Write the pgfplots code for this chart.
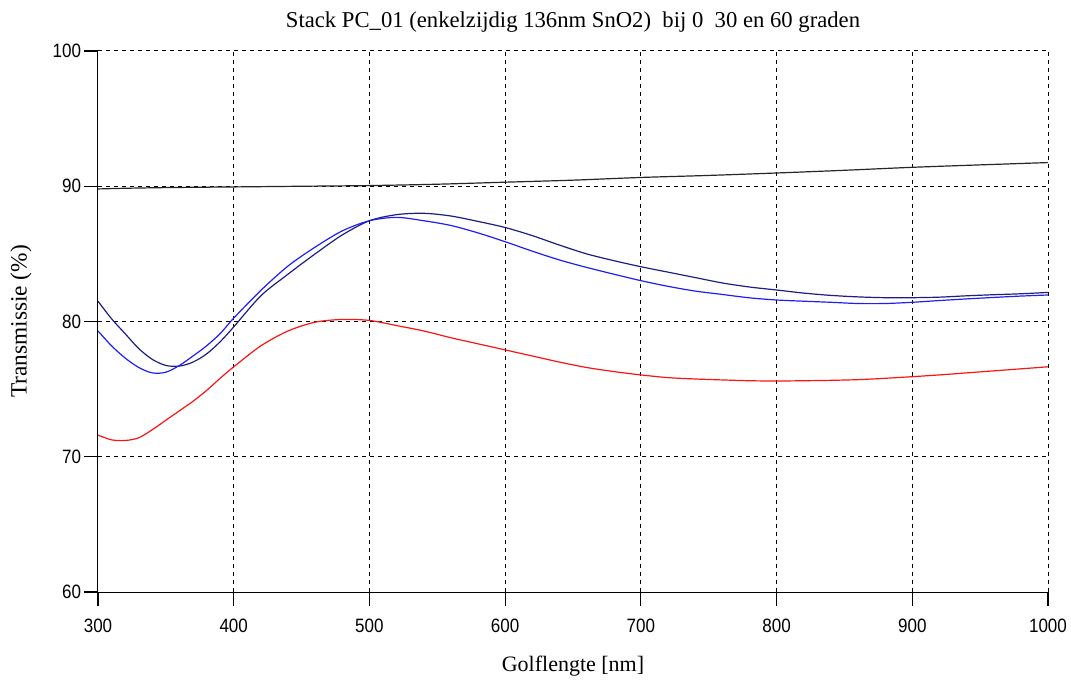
\documentclass[border=0pt]{standalone}
\usepackage{fontspec}
\setmainfont{Liberation Serif}
\newfontfamily\ticksf[FakeStretch=0.88]{Liberation Sans}
\usepackage{pgfplots}
\usetikzlibrary{calc}
\pgfplotsset{compat=1.18}

\definecolor{navyline}{RGB}{30,30,130}
\definecolor{blueline}{RGB}{30,30,245}
\definecolor{redline}{RGB}{250,20,20}

\begin{document}
\begin{tikzpicture}
\begin{axis}[
  name=ax,
  scale only axis,
  width=712.5pt, height=405.75pt,
  xmin=300, xmax=1000, ymin=60, ymax=100,
  xtick={300,400,...,1000}, ytick={60,70,...,100},
  axis line style={draw=none},
  xtick pos=bottom, ytick pos=left,
  major tick length=0pt,
  grid=major,
  major grid style={black, line width=0.75pt, dash pattern=on 3pt off 3pt},
  /pgf/number format/1000 sep={},
  /pgf/number format/assume math mode=true,
  tick label style={font=\ticksf\fontsize{14.5}{16}\selectfont, inner sep=1pt},
  xticklabel style={yshift=-19pt},
  yticklabel style={xshift=-11.5pt},
  every axis title shift=0pt,
  title={Stack PC\_01 (enkelzijdig 136nm SnO2)\ \ bij 0\ \ 30 en 60 graden},
  title style={at={(axis description cs:0.5,1.0536)}, anchor=center, font=\fontsize{17}{19}\selectfont},
  xlabel={Golflengte [nm]},
  xlabel style={at={(axis description cs:0.5,-0.137)}, anchor=center, font=\fontsize{16.5}{19}\selectfont},
  ylabel={Transmissie (\%)},
  ylabel style={at={(axis description cs:-0.081,0.5)}, anchor=center, font=\fontsize{17.5}{19}\selectfont},
  every axis plot/.append style={line width=0.9pt},
]
% 0 graden
\addplot[black!85, smooth] coordinates {
 (300,89.8) (320,89.85) (350,89.9) (400,89.95) (450,90.0) (500,90.05)
 (550,90.15) (600,90.3) (650,90.45) (700,90.65) (750,90.8) (800,90.98)
 (850,91.18) (900,91.4) (950,91.58) (1000,91.75)};
% 30 graden
\addplot[navyline, smooth] coordinates {
 (300,81.5) (310,80.2) (320,79.1) (330,78.0) (340,77.2) (350,76.75)
 (360,76.7) (370,77.0) (380,77.6) (390,78.5) (400,79.6) (420,81.9)
 (440,83.5) (460,85.0) (480,86.4) (500,87.45) (520,87.9) (540,88.0)
 (560,87.8) (580,87.4) (600,86.95) (620,86.35) (640,85.65) (660,85.0)
 (680,84.5) (700,84.05) (720,83.65) (740,83.25) (760,82.85) (780,82.55)
 (800,82.33) (820,82.1) (840,81.93) (860,81.82) (880,81.76) (900,81.76)
 (920,81.8) (940,81.9) (960,81.98) (980,82.05) (1000,82.15)};
% 30 graden (tweede polarisatie)
\addplot[blueline, smooth] coordinates {
 (300,79.3) (310,78.2) (320,77.3) (330,76.6) (340,76.2) (350,76.25)
 (360,76.75) (370,77.45) (380,78.2) (390,79.1) (400,80.25) (420,82.3)
 (440,84.1) (460,85.5) (480,86.7) (500,87.45) (520,87.7) (540,87.45)
 (560,87.1) (580,86.55) (600,85.9) (620,85.2) (640,84.55) (660,84.0)
 (680,83.5) (700,83.02) (720,82.6) (740,82.25) (760,82.0) (780,81.75)
 (800,81.59) (820,81.5) (840,81.42) (860,81.33) (880,81.33) (900,81.42)
 (920,81.55) (940,81.67) (960,81.78) (980,81.88) (1000,81.96)};
% 60 graden
\addplot[redline, smooth] coordinates {
 (300,71.6) (310,71.25) (320,71.2) (330,71.4) (340,72.0) (350,72.7)
 (360,73.4) (370,74.1) (380,74.9) (390,75.8) (400,76.65) (420,78.2)
 (440,79.3) (460,79.95) (480,80.15) (500,80.08) (520,79.7) (540,79.3)
 (560,78.8) (580,78.35) (600,77.9) (620,77.45) (640,77.0) (660,76.6)
 (680,76.3) (700,76.05) (720,75.85) (740,75.75) (760,75.68) (780,75.62)
 (800,75.6) (820,75.62) (840,75.65) (860,75.7) (880,75.8) (900,75.92)
 (920,76.05) (940,76.2) (960,76.35) (980,76.5) (1000,76.65)};
\end{axis}
% solid left and bottom axis lines; top and right come from the dashed grid
\draw[black, line width=0.75pt] (ax.north west) -- (ax.south west) -- (ax.south east);
% outward tick marks
\foreach \i in {0,...,7}
  \draw[black, line width=0.9pt] ($(ax.south west)!\i/7!(ax.south east)$) -- ++(0,-10.5pt);
\foreach \j in {0,...,4}
  \draw[black, line width=0.9pt] ($(ax.south west)!\j/4!(ax.north west)$) -- ++(-10.5pt,0);
\useasboundingbox ([xshift=-73.5pt,yshift=-67.5pt]ax.south west) rectangle ([xshift=17.25pt,yshift=38.25pt]ax.north east);
\end{tikzpicture}
\end{document}
